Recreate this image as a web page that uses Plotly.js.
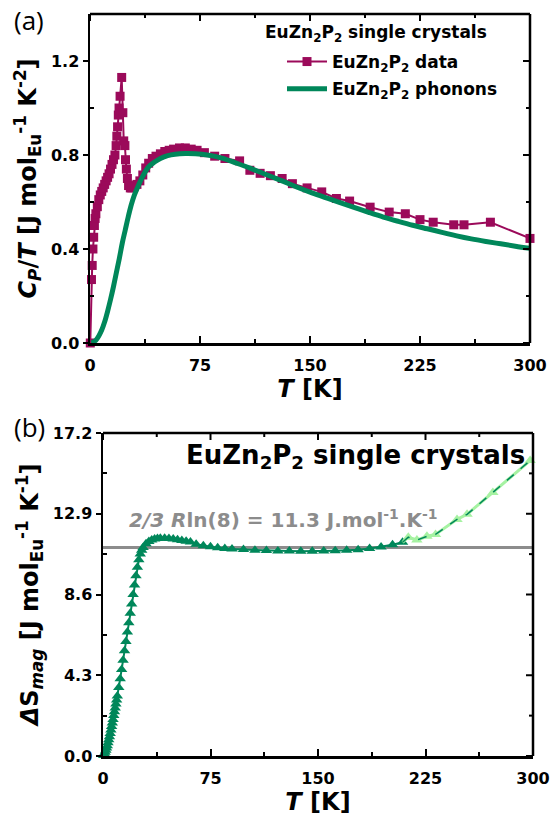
<!DOCTYPE html>
<html><head><meta charset="utf-8">
<script src="https://cdn.plot.ly/plotly-3.0.1.min.js"></script>
<style>html,body{margin:0;padding:0;background:#fff}#chart{width:550px;height:817px}</style>
</head><body><div id="chart"></div>
<script>
// ---- Panel (a): Cp/T ----
const tempData = [0.2, 1.0, 1.5, 2.0, 2.5, 3.0, 3.5, 4.0, 5, 6, 7, 8, 9, 10, 11, 12, 13, 14, 15, 16, 17,
  17.8, 18.3, 18.8, 19.3, 19.8, 20.5, 21.6, 22.4, 23.0, 23.8, 24.2, 24.8, 25.5, 26.3, 27.5, 28.5,
  30, 32, 34, 36, 38, 40, 42.5, 45, 48, 51, 54, 57, 61, 65, 69, 73, 78, 85, 92,
  102, 109, 116, 123, 131, 138, 148, 158, 168, 177, 191, 204, 215, 225, 234, 248, 255, 273, 300];
const cpData = [0.00, 0.27, 0.33, 0.40, 0.45, 0.50, 0.53, 0.55, 0.58, 0.61, 0.63, 0.645, 0.66, 0.675, 0.69, 0.705, 0.72, 0.74, 0.76, 0.78, 0.80,
  0.84, 0.88, 0.92, 0.97, 1.00, 1.05, 1.13, 0.98, 0.86, 0.84, 0.78, 0.74, 0.70, 0.67, 0.66, 0.66,
  0.665, 0.675, 0.69, 0.715, 0.745, 0.765, 0.785, 0.795, 0.805, 0.815, 0.82, 0.825, 0.83, 0.83, 0.825, 0.82, 0.81, 0.795, 0.785,
  0.775, 0.735, 0.722, 0.712, 0.70, 0.678, 0.66, 0.643, 0.615, 0.604, 0.578, 0.557, 0.55, 0.525, 0.514, 0.503, 0.503, 0.514, 0.445];
const tempPhonon = [1, 2, 4, 6, 8, 10, 12, 14, 16, 18, 20, 22, 24, 26, 28, 30, 33, 36, 40, 44, 48, 53, 58, 65, 72, 80,
  90, 100, 110, 120, 130, 140, 150, 160, 170, 180, 190, 200, 210, 220, 230, 240, 250, 260, 270, 280, 290, 300];
const cpPhonon = [0, 0.003, 0.012, 0.03, 0.055, 0.09, 0.135, 0.185, 0.24, 0.30, 0.36, 0.425, 0.48, 0.535, 0.585, 0.625,
  0.67, 0.71, 0.75, 0.77, 0.785, 0.797, 0.803, 0.806, 0.805, 0.80,
  0.787, 0.765, 0.742, 0.717, 0.692, 0.666, 0.642, 0.62, 0.598, 0.577, 0.556, 0.536, 0.518, 0.501, 0.486, 0.471, 0.456, 0.443, 0.432, 0.422, 0.412, 0.403];

// ---- Panel (b): magnetic entropy ----
const tempS = [0.5, 1, 1.5, 2, 2.5, 3, 3.5, 4, 4.5, 5, 5.5, 6, 6.5, 7, 7.5, 8, 8.5, 9, 9.5, 10,
  11, 12, 13, 14, 15, 16, 17, 18, 19, 20, 21, 22, 23, 24, 25, 26, 27, 28,
  30, 32, 34, 36, 38, 40, 43, 46, 49, 52, 55, 58, 61, 65, 70, 75, 80, 85, 90,
  98, 106, 114, 122, 130, 138, 146, 154, 162, 170, 178, 186, 194, 202, 209];
const sMag = [0.03, 0.1, 0.2, 0.3, 0.42, 0.55, 0.7, 0.86, 1.03, 1.2, 1.38, 1.57, 1.76, 1.95, 2.15, 2.35, 2.56, 2.77, 2.98, 3.2,
  3.65, 4.12, 4.6, 5.1, 5.6, 6.1, 6.6, 7.1, 7.6, 8.1, 8.6, 9.1, 9.6, 10.05, 10.45, 10.75, 10.95, 11.1,
  11.3, 11.42, 11.5, 11.55, 11.58, 11.6, 11.6, 11.58, 11.55, 11.52, 11.48, 11.44, 11.4, 11.28, 11.2, 11.14, 11.09, 11.05, 11.02,
  10.99, 10.96, 10.94, 10.92, 10.91, 10.9, 10.9, 10.91, 10.93, 10.95, 10.98, 11.05, 11.13, 11.25, 11.38];
const tempSHigh = [213, 219, 226, 232, 247, 254, 272, 298];
const sMagHigh = [11.65, 11.5, 11.7, 11.8, 12.6, 12.87, 14.03, 15.73];
const refS = 11.1;

// ---- ticks ----
const xTicks = [0, 75, 150, 225, 300];
const xMinor = [37.5, 112.5, 187.5, 262.5];
const yTicksA = [0, 0.4, 0.8, 1.2];
const yLabelsA = ['0.0', '0.4', '0.8', '1.2'];
const yMinorA = [0.2, 0.6, 1.0];
const yTicksB = [0, 4.3, 8.6, 12.9, 17.2];
const yLabelsB = ['0.0', '4.3', '8.6', '12.9', '17.2'];
const yMinorB = [2.15, 6.45, 10.75, 15.05];

const F = 'DejaVu Sans, sans-serif';
const MAG = '#9b0a5a', GRN = '#00875a', LGRN = '#a6f2a2', GRAY = '#8c8c8c';
const FRAME = '#000';
const W = 550, H = 817;
const boxA = {l: 90, r: 530, t: 14, b: 343};
const boxB = {l: 103, r: 533, t: 433, b: 756};

const lastT = tempS[tempS.length - 1], lastS = sMag[sMag.length - 1];
const traces = [
  {x: tempData, y: cpData, type: 'scatter', mode: 'lines+markers', name: 'EuZn<sub>2</sub>P<sub>2</sub> data',
   line: {color: MAG, width: 2}, marker: {symbol: 'square', size: 9, color: MAG}, cliponaxis: false,
   xaxis: 'x', yaxis: 'y', legendgroup: 'a'},
  {x: tempPhonon, y: cpPhonon, type: 'scatter', mode: 'lines', name: 'EuZn<sub>2</sub>P<sub>2</sub> phonons',
   line: {color: GRN, width: 5, shape: 'spline'}, xaxis: 'x', yaxis: 'y', legendgroup: 'b'},
  {x: tempS, y: sMag, type: 'scatter', mode: 'lines+markers', showlegend: false,
   line: {color: GRN, width: 2}, marker: {symbol: 'triangle-up', size: 10, color: GRN}, cliponaxis: false,
   xaxis: 'x2', yaxis: 'y2'},
  {x: [lastT].concat(tempSHigh), y: [lastS].concat(sMagHigh), type: 'scatter', mode: 'lines', showlegend: false,
   line: {color: LGRN, width: 3}, xaxis: 'x2', yaxis: 'y2'},
  {x: tempSHigh, y: sMagHigh, type: 'scatter', mode: 'markers', showlegend: false,
   marker: {symbol: 'triangle-up', size: 10, color: LGRN}, cliponaxis: false, xaxis: 'x2', yaxis: 'y2'},
  {x: [lastT].concat(tempSHigh), y: [lastS].concat(sMagHigh), type: 'scatter', mode: 'lines', showlegend: false,
   line: {color: GRN, width: 1.5, dash: 'dash'}, xaxis: 'x2', yaxis: 'y2'}
];

const tickFont = {family: F, size: 16, color: '#000', weight: 'bold'};
const titleFont = {family: F, size: 24, color: '#000', weight: 'bold'};
const minorIn = (vals) => ({tickmode: 'array', tickvals: vals, ticks: 'inside', ticklen: 4, tickwidth: 2, tickcolor: '#000'});

function xAxis(box, anchor) {
  return {domain: [box.l / W, box.r / W], anchor: anchor, range: [0, 300], tickmode: 'array', tickvals: xTicks, ticktext: xTicks.map(String),
    ticks: 'inside', ticklen: 7, tickwidth: 2, tickcolor: '#000', minor: minorIn(xMinor),
    showline: true, linewidth: 2.5, linecolor: '#000', mirror: false, showgrid: false, zeroline: false,
    tickfont: tickFont, ticklabelstandoff: 6,
    title: {text: '<i>T</i> [K]', font: titleFont, standoff: 2}};
}
function yAxis(box, anchor, range, vals, labels, minor, title) {
  return {domain: [1 - box.b / H, 1 - box.t / H], anchor: anchor, range: range, tickmode: 'array', tickvals: vals, ticktext: labels,
    ticks: 'outside', ticklen: 5, tickwidth: 2, tickcolor: '#000', minor: minorIn(minor),
    showline: true, linewidth: 2.5, linecolor: '#000', mirror: false, showgrid: false, zeroline: false,
    tickfont: tickFont, title: {text: title, font: titleFont, standoff: 8}};
}

// top and right frame sides with inward ticks (positions from the tick arrays)
function frame(xa, ya, box, xMaj, xMin, yMaj, yMin) {
  const blk = {color: FRAME, width: 2};
  const edge = {color: FRAME, width: 2.5};
  const s = [
    {type: 'line', xref: 'paper', yref: 'paper', x0: box.l / W, x1: box.r / W, y0: 1 - box.t / H, y1: 1 - box.t / H, line: edge},
    {type: 'line', xref: 'paper', yref: 'paper', x0: box.r / W, x1: box.r / W, y0: 1 - box.t / H, y1: 1 - box.b / H, line: edge}
  ];
  xMaj.forEach(v => s.push({type: 'line', xref: xa, x0: v, x1: v, yref: 'paper', y0: 1 - box.t / H, y1: 1 - (box.t + 7) / H, line: blk}));
  xMin.forEach(v => s.push({type: 'line', xref: xa, x0: v, x1: v, yref: 'paper', y0: 1 - box.t / H, y1: 1 - (box.t + 4) / H, line: blk}));
  yMaj.forEach(v => s.push({type: 'line', yref: ya, y0: v, y1: v, xref: 'paper', x0: box.r / W, x1: (box.r - 7) / W, line: blk}));
  yMin.forEach(v => s.push({type: 'line', yref: ya, y0: v, y1: v, xref: 'paper', x0: box.r / W, x1: (box.r - 4) / W, line: blk}));
  return s;
}

const shapes = [{type: 'line', xref: 'x2 domain', x0: 0, x1: 1, yref: 'y2', y0: refS, y1: refS,
    line: {color: GRAY, width: 3}, layer: 'below'}]
  .concat(frame('x', 'y', boxA, xTicks, xMinor, yTicksA, yMinorA))
  .concat(frame('x2', 'y2', boxB, xTicks, xMinor, yTicksB, yMinorB));

const layout = {
  width: W, height: H, margin: {l: 0, r: 0, t: 0, b: 0},
  paper_bgcolor: '#fff', plot_bgcolor: 'rgba(0,0,0,0)', font: {family: F, color: '#000'},
  xaxis: xAxis(boxA, 'y'),
  yaxis: yAxis(boxA, 'x', [0, 1.4], yTicksA, yLabelsA, yMinorA,
    '<i>C<sub>P</sub></i>/<i>T</i> [J mol<sub>Eu</sub><sup>-1</sup> K<sup>-2</sup>]'),
  xaxis2: xAxis(boxB, 'y2'),
  yaxis2: yAxis(boxB, 'x2', [0, 17.2], yTicksB, yLabelsB, yMinorB,
    '<i>Δ</i>S<sub><i>mag</i></sub> [J mol<sub>Eu</sub><sup>-1</sup> K<sup>-1</sup>]'),
  showlegend: true,
  legend: {x: 282 / W, y: 1 - 44 / H, xanchor: 'left', yanchor: 'top', bgcolor: 'rgba(0,0,0,0)',
    font: {family: F, size: 17, color: '#000', weight: 'bold'}, tracegroupgap: 2, itemwidth: 40},
  shapes: shapes,
  annotations: [
    {text: '(a)', xref: 'paper', yref: 'paper', x: 12 / W, y: 1 - 20 / H, xanchor: 'left', yanchor: 'middle', showarrow: false,
     font: {family: 'Open Sans, sans-serif', size: 26, color: '#000'}},
    {text: '(b)', xref: 'paper', yref: 'paper', x: 12 / W, y: 1 - 427 / H, xanchor: 'left', yanchor: 'middle', showarrow: false,
     font: {family: 'Open Sans, sans-serif', size: 26, color: '#000'}},
    {text: 'EuZn<sub>2</sub>P<sub>2</sub> single crystals', xref: 'paper', yref: 'paper', x: 263 / W, y: 1 - 33 / H,
     xanchor: 'left', yanchor: 'middle', showarrow: false, font: {family: F, size: 17, color: '#000', weight: 'bold'}},
    {text: 'EuZn<sub>2</sub>P<sub>2</sub> single crystals', xref: 'paper', yref: 'paper', x: 527 / W, y: 1 - 456 / H,
     xanchor: 'right', yanchor: 'middle', showarrow: false, font: {family: F, size: 26, color: '#000', weight: 'bold'}},
    {text: '<i>2/3 R</i>ln(8) = 11.3 J.mol<sup>-1</sup>.K<sup>-1</sup>', xref: 'paper', yref: 'paper', x: 127 / W, y: 1 - 519 / H,
     xanchor: 'left', yanchor: 'middle', showarrow: false, font: {family: F, size: 20, color: GRAY, weight: 'bold'}}
  ]
};

Plotly.newPlot('chart', traces, layout, {displayModeBar: false, staticPlot: true});
</script></body></html>
